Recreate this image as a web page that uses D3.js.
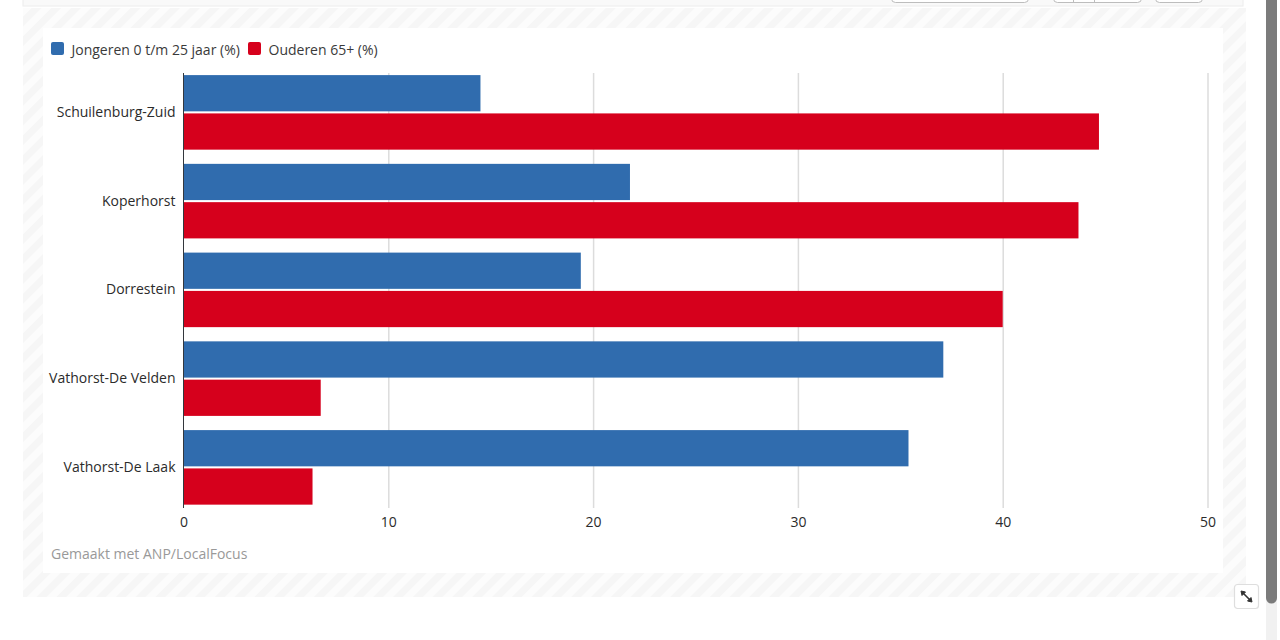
<!DOCTYPE html>
<html lang="nl">
<head>
<meta charset="utf-8">
<title>Jongeren en ouderen per buurt</title>
<script src="https://cdn.jsdelivr.net/npm/d3@7/dist/d3.min.js"></script>
<style>
  html, body { margin: 0; padding: 0; background: #fff; overflow: hidden; }
  svg { display: block; font-family: "Open Sans", sans-serif; }
  .axis text { font-family: "Open Sans", sans-serif; font-size: 14px; fill: #2b2b2b; }
</style>
</head>
<body>
<svg id="chart" width="1280" height="640"></svg>
<script>
// Neighbourhoods, top to bottom
const categories = ["Schuilenburg-Zuid", "Koperhorst", "Dorrestein", "Vathorst-De Velden", "Vathorst-De Laak"];
const seriesNames = ["Jongeren 0 t/m 25 jaar (%)", "Ouderen 65+ (%)"];
const seriesColors = ["#306cae", "#d6001c"];
const youngValues = [14.5, 21.8, 19.4, 37.1, 35.4];
const olderValues = [44.7, 43.7, 40.0, 6.7, 6.3];
const seriesValues = [youngValues, olderValues];
const xTicks = [0, 10, 20, 30, 40, 50];
const creditText = "Gemaakt met ANP/LocalFocus";

const svg = d3.select("#chart");

// Diagonal hatch used for the frame around the chart card
const defs = svg.append("defs");
const hatch = defs.append("pattern")
  .attr("id", "hatch")
  .attr("width", 14).attr("height", 14)
  .attr("patternUnits", "userSpaceOnUse")
  .attr("patternTransform", "rotate(45)");
hatch.append("rect").attr("width", 14).attr("height", 14).attr("fill", "#fcfcfc");
hatch.append("rect").attr("width", 7).attr("height", 14).attr("fill", "#f6f6f6");

// Page furniture: toolbar strip, hatched frame, white card
const page = svg.append("g");
page.append("rect").attr("x", 23).attr("y", -6).attr("width", 1220).attr("height", 12)
  .attr("fill", "#f9f9f9").attr("stroke", "#ececec");
[[891, 137], [1053, 88], [1155, 47]].forEach(([x, w]) => {
  page.append("rect").attr("x", x + 0.5).attr("y", -8).attr("width", w).attr("height", 10.5).attr("rx", 4)
    .attr("fill", "#fff").attr("stroke", "#bdbdbd");
});
[1073.5, 1094.5].forEach(x => {
  page.append("line").attr("x1", x).attr("x2", x).attr("y1", 0).attr("y2", 2.5).attr("stroke", "#bdbdbd");
});
page.append("rect").attr("x", 23).attr("y", 8).attr("width", 1223).attr("height", 589).attr("fill", "url(#hatch)");
page.append("rect").attr("x", 43).attr("y", 28).attr("width", 1180).attr("height", 545).attr("fill", "#fff");

// Scales
const x = d3.scaleLinear().domain([0, 50]).range([183.5, 1207.5]);
const y = d3.scaleBand().domain(categories).range([68, 511.75]).paddingInner(0.16).paddingOuter(0.08);
const ySeries = d3.scaleBand().domain(d3.range(seriesNames.length)).range([0, y.bandwidth()]).paddingInner(0.054);

const plotTop = 73, plotBottom = 508;

// Vertical grid lines
const grid = svg.append("g").attr("transform", `translate(0,${plotBottom})`)
  .call(d3.axisBottom(x).tickValues(xTicks.slice(1)).tickSize(plotTop - plotBottom).tickFormat(""));
grid.select(".domain").remove();
grid.selectAll("line").attr("stroke", "#dcdcdc").attr("stroke-width", 1.5);

// Bars, one group per neighbourhood
const groups = svg.append("g").selectAll("g").data(categories).join("g")
  .attr("transform", d => `translate(0,${y(d)})`);
groups.selectAll("rect")
  .data((d, i) => seriesValues.map((vals, s) => ({ s, v: vals[i] })))
  .join("rect")
  .attr("x", x(0))
  .attr("y", d => ySeries(d.s))
  .attr("width", d => x(d.v) - x(0))
  .attr("height", ySeries.bandwidth())
  .attr("fill", d => seriesColors[d.s]);

// Category axis
const yAxis = svg.append("g").attr("class", "axis").attr("transform", `translate(${x(0)},0)`)
  .call(d3.axisLeft(y).tickSize(0).tickPadding(8));
yAxis.select(".domain").remove();
svg.append("line").attr("x1", x(0)).attr("x2", x(0)).attr("y1", plotTop).attr("y2", plotBottom)
  .attr("stroke", "#33373d").attr("stroke-width", 1);

// Value axis labels
const xAxis = svg.append("g").attr("class", "axis").attr("transform", `translate(0,${plotBottom})`)
  .call(d3.axisBottom(x).tickValues(xTicks).tickSize(0).tickPadding(9));
xAxis.select(".domain").remove();

// Legend
const legendX = [51, 248];
const legend = svg.append("g").selectAll("g").data(seriesNames).join("g")
  .attr("transform", (d, i) => `translate(${legendX[i]},42)`);
legend.append("rect").attr("width", 13).attr("height", 13).attr("rx", 2)
  .attr("fill", (d, i) => seriesColors[i]);
legend.append("text").attr("x", 20.5).attr("y", 12.5)
  .attr("font-size", 14).attr("fill", "#3a3a3a").text(d => d);

// Credit line
svg.append("text").attr("x", 51).attr("y", 559).attr("font-size", 14).attr("fill", "#999").text(creditText);

// Scrollbar at the right edge of the page
svg.append("rect").attr("x", 1266).attr("y", 0).attr("width", 11).attr("height", 640).attr("fill", "#f1f1f1");
svg.append("path").attr("d", "M1266,0H1277V598a5.5,5.5 0 0 1 -11,0Z").attr("fill", "#7b7b7b");

// Expand button
const btn = svg.append("g").attr("transform", "translate(1234,584)");
btn.append("rect").attr("x", 0.5).attr("y", 0.5).attr("width", 24).attr("height", 24).attr("rx", 3)
  .attr("fill", "#fff").attr("stroke", "#dedede").attr("stroke-width", 1.2);
btn.append("path").attr("d", "M8,8L17,17").attr("stroke", "#333").attr("stroke-width", 1.6);
btn.append("path").attr("d", "M7,7L11.5,8L8,11.5ZM18,18L13.5,17L17,13.5Z").attr("fill", "#333").attr("stroke", "#333");
</script>
</body>
</html>
